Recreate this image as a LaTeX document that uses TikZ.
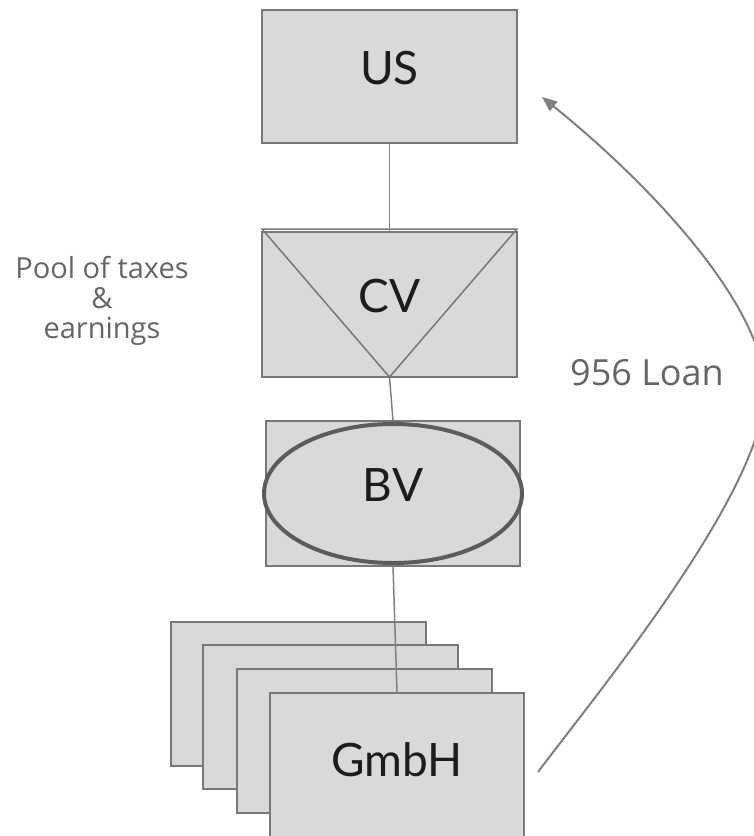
\documentclass[tikz,border=0pt]{standalone}
\usepackage{fontspec}
\setmainfont{Open Sans}
\newfontfamily\boxfont{Lato}
\usetikzlibrary{arrows.meta,shapes.geometric}
\definecolor{boxfill}{HTML}{D9D9D9}
\definecolor{boxdraw}{HTML}{787878}
\definecolor{ellipsedraw}{HTML}{5C5C5C}
\definecolor{linkcol}{HTML}{808080}
\definecolor{labelcol}{HTML}{666666}
\definecolor{textcol}{HTML}{1C1C1C}
\begin{document}
\begin{tikzpicture}[x=1pt,y=-1pt,
  boxtext/.style={text=textcol,font=\boxfont\fontsize{46}{50}\selectfont,text height=32pt,text depth=16pt},
  entity/.style={draw=boxdraw,fill=boxfill,line width=2pt,rectangle,inner sep=0pt,outer sep=0pt,
    minimum width=#1,boxtext},
  entity/.default=255pt,
  oval/.style={draw=ellipsedraw,fill=boxfill,line width=4pt,ellipse,inner sep=0pt,outer sep=0pt,
    minimum width=258pt,minimum height=139pt,boxtext},
  link/.style={draw=linkcol,line width=1.5pt},
  loan/.style={draw=linkcol,line width=2pt,-{Triangle[length=15pt,width=12pt]}},
  lbl/.style={text=labelcol,align=center,inner sep=0pt}]
\useasboundingbox (0,0) rectangle (754,836);
\fill[white] (0,0) rectangle (754,836);
% US
\node[entity, minimum height=133pt] (us) at (389.5,76.5) {US};
% CV
\node[entity, minimum height=145pt] (cv) at (389.5,304.5) {};
\draw[draw=boxdraw,line width=1.5pt] ([yshift=3pt]cv.north west) -- (cv.south) -- ([yshift=3pt]cv.north east) -- cycle;
\node[boxtext,inner sep=0pt] (cvt) at (cv.center) {CV};
\draw[link] (us.south) -- (cv.north);
% BV
\node[entity=254pt, minimum height=145pt] (bv) at (393,493.5) {};
\node[oval] (bve) at (393,493.5) {BV};
\draw[link] (cv.south) -- (bv.north);
% GmbH stack
\node[entity, minimum height=144pt] (g1) at (298.5,694) {};
\node[entity, minimum height=144pt] (g2) at (330.5,717) {};
\node[entity, minimum height=144pt] (g3) at (364,741) {};
\node[entity=254pt, minimum height=144pt, text depth=10pt, text height=32pt] (gmbh) at (397,765) {GmbH};
\draw[link] (bv.south) -- (gmbh.north);
% labels
\node[lbl,font=\fontsize{29}{30}\selectfont] (pool) at (102,301) {Pool of taxes\\\&\\earnings};
\node[lbl,font=\fontsize{36}{40}\selectfont] (loanlbl) at (647,373) {956 Loan};
% loan arrow
\coordinate (ls) at (538,772);
\coordinate (lpeak) at (765,390);
\coordinate (le) at (542,97);
\draw[loan] (ls) .. controls (598,692) and (765,490) .. (lpeak) .. controls (765,310) and (659,191.5) .. (le);
\end{tikzpicture}
\end{document}
